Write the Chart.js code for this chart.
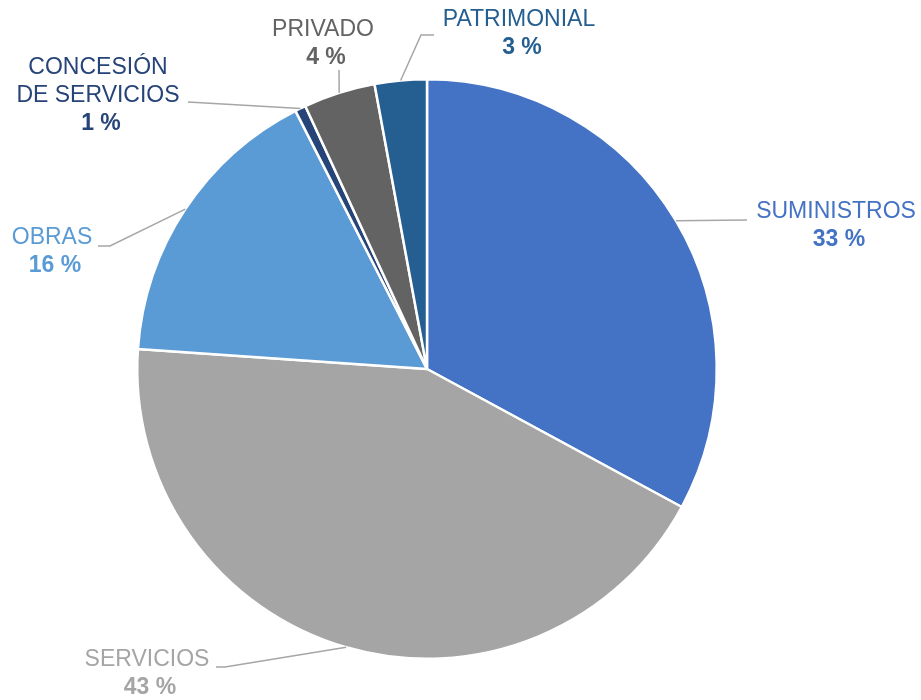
<!DOCTYPE html>
<html>
<head>
<meta charset="utf-8">
<script src="https://cdn.jsdelivr.net/npm/chart.js@4"></script>
<style>
  html, body { margin: 0; padding: 0; background: #ffffff; }
  #wrap { width: 921px; height: 700px; position: relative; }
</style>
</head>
<body>
<div id="wrap"><canvas id="c" width="921" height="700"></canvas></div>
<script>
// ---- data ----
const categories = ["SUMINISTROS", "SERVICIOS", "OBRAS", "CONCESIÓN DE SERVICIOS", "PRIVADO", "PATRIMONIAL"];
const shares = [32.9, 43.2, 16.4, 0.6, 4.0, 2.9];
const labelLines = [["SUMINISTROS"], ["SERVICIOS"], ["OBRAS"], ["CONCESIÓN", "DE SERVICIOS"], ["PRIVADO"], ["PATRIMONIAL"]];

// ---- styles ----
const sliceColors = ["#4472C4", "#A5A5A5", "#5B9BD5", "#264478", "#636363", "#255E91"];
const textColors  = ["#4472C4", "#A5A5A5", "#5B9BD5", "#264478", "#636363", "#255E91"];
// label layout relative to pie center: elbow points (after anchor) and text block (center x, first-line y)
const labelLayout = [
  { path: [[320, -149]],               tx: 409,  ty: -157 },
  { path: [[-202, 298], [-211, 298]],  tx: -280, ty: 291 },
  { path: [[-317, -123], [-329, -123]],tx: -375, ty: -131 },
  { path: [[-239, -267]],              tx: -329, ty: -301 },
  { path: [[-88, -299]],               tx: -104, ty: -339 },
  { path: [[-6, -334], [7, -334]],     tx: 92,   ty: -349 }
];
const lineH = 28;

const labelPlugin = {
  id: 'pieLabels',
  afterDatasetsDraw(chart) {
    const ctx = chart.ctx;
    const meta = chart.getDatasetMeta(0);
    const total = shares.reduce((a, b) => a + b, 0);
    meta.data.forEach((arc, i) => {
      const p = arc.getProps(['x', 'y', 'startAngle', 'endAngle', 'outerRadius'], true);
      const mid = (p.startAngle + p.endAngle) / 2;
      const ax = p.x + Math.cos(mid) * p.outerRadius;
      const ay = p.y + Math.sin(mid) * p.outerRadius;
      const L = labelLayout[i];
      ctx.save();
      ctx.strokeStyle = '#A6A6A6';
      ctx.lineWidth = 1.5;
      ctx.beginPath();
      ctx.moveTo(ax, ay);
      L.path.forEach(pt => ctx.lineTo(p.x + pt[0], p.y + pt[1]));
      ctx.stroke();
      ctx.fillStyle = textColors[i];
      ctx.textAlign = 'center';
      ctx.textBaseline = 'middle';
      const cx = p.x + L.tx;
      let cy = p.y + L.ty;
      ctx.font = '23px "Liberation Sans", Arial, sans-serif';
      labelLines[i].forEach(line => { ctx.fillText(line, cx, cy); cy += lineH; });
      ctx.font = 'bold 23px "Liberation Sans", Arial, sans-serif';
      ctx.fillText(Math.round(shares[i] / total * 100) + ' %', cx + 3, cy);
      ctx.restore();
    });
  }
};

new Chart(document.getElementById('c'), {
  type: 'pie',
  data: {
    labels: categories,
    datasets: [{
      data: shares,
      backgroundColor: sliceColors,
      borderColor: '#ffffff',
      borderWidth: 2.5
    }]
  },
  options: {
    responsive: false,
    animation: false,
    layout: { padding: { left: 136, right: 203, top: 78, bottom: 40 } },
    plugins: { legend: { display: false }, tooltip: { enabled: false } }
  },
  plugins: [labelPlugin]
});
</script>
</body>
</html>
